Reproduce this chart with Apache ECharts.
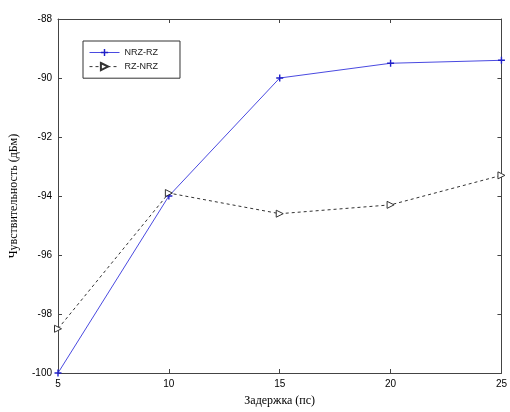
<!DOCTYPE html>
<html>
<head>
<meta charset="utf-8">
<script src="https://cdn.jsdelivr.net/npm/echarts@6/dist/echarts.min.js"></script>
<style>
  html, body { margin: 0; padding: 0; background: #fff; }
  #chart { width: 510px; height: 412px; }
</style>
</head>
<body>
<div id="chart"></div>
<script>
// Delay values (ps) and receiver sensitivity (dBm)
const delays = [5, 10, 15, 20, 25];
const nrzRz = [-100, -94.0, -90.0, -89.5, -89.4];
const rzNrz = [-98.5, -93.9, -94.6, -94.3, -93.3];
const yTicks = [-100, -98, -96, -94, -92, -90, -88];

const chart = echarts.init(document.getElementById('chart'));
const tickFont = { fontFamily: 'Arial, "Liberation Sans"', fontSize: 10, color: '#000' };
const axisColor = '#444';

const pairs = (ys) => delays.map((x, i) => [x, ys[i]]);

chart.setOption({
  animation: false,
  backgroundColor: '#fff',
  grid: { left: 58, right: 4, top: 19, bottom: 39, show: false },
  legend: {
    left: 83, top: 41,
    orient: 'vertical',
    itemGap: 5,
    itemWidth: 30,
    itemHeight: 9,
    padding: [7, 22, 7, 6],
    borderColor: '#333',
    borderWidth: 1,
    backgroundColor: '#fff',
    lineStyle: { width: 1 },
    textStyle: { fontFamily: 'Arial, "Liberation Sans"', fontSize: 9, color: '#222' },
    data: ['NRZ-RZ', 'RZ-NRZ']
  },
  xAxis: [{
    type: 'value', min: 5, max: 25, interval: 5,
    position: 'bottom',
    axisLine: { lineStyle: { color: axisColor, width: 1 } },
    axisTick: { inside: true, length: 4, lineStyle: { color: axisColor } },
    axisLabel: Object.assign({ margin: 6 }, tickFont),
    splitLine: { show: false },
    name: 'Задержка (пс)', nameLocation: 'middle', nameGap: 22,
    nameTextStyle: { fontFamily: '"Liberation Serif", "DejaVu Serif", serif', fontSize: 12, color: '#000' }
  }, {
    type: 'value', min: 5, max: 25, interval: 5,
    position: 'top',
    axisLine: { lineStyle: { color: axisColor, width: 1 } },
    axisTick: { inside: true, length: 4, lineStyle: { color: axisColor } },
    axisLabel: { show: false },
    splitLine: { show: false }
  }],
  yAxis: [{
    type: 'value', min: -100, max: -88, interval: 2,
    position: 'left',
    axisLine: { lineStyle: { color: axisColor, width: 1 } },
    axisTick: { inside: true, length: 4, lineStyle: { color: axisColor } },
    axisLabel: Object.assign({ margin: 6, formatter: (v) => yTicks.includes(v) ? String(v) : '' }, tickFont),
    splitLine: { show: false },
    name: 'Чувствительность (дБм)', nameLocation: 'middle', nameGap: 38,
    nameTextStyle: { fontFamily: '"Liberation Serif", "DejaVu Serif", serif', fontSize: 12, color: '#000' }
  }, {
    type: 'value', min: -100, max: -88, interval: 2,
    position: 'right',
    axisLine: { lineStyle: { color: axisColor, width: 1 } },
    axisTick: { inside: true, length: 4, lineStyle: { color: axisColor } },
    axisLabel: { show: false },
    splitLine: { show: false }
  }],
  series: [{
    name: 'NRZ-RZ',
    type: 'line',
    data: pairs(nrzRz),
    lineStyle: { color: '#4a4ae0', width: 1 },
    itemStyle: { color: '#2020c8' },
    symbol: 'path://M4,0 L6,0 L6,4 L10,4 L10,6 L6,6 L6,10 L4,10 L4,6 L0,6 L0,4 L4,4 Z',
    symbolSize: 7
  }, {
    name: 'RZ-NRZ',
    type: 'line',
    data: pairs(rzNrz),
    lineStyle: { color: '#333', width: 1, type: [3, 3] },
    itemStyle: { color: '#fff', borderColor: '#333', borderWidth: 1 },
    symbol: 'path://M0,0 L10,5 L0,10 Z',
    symbolSize: 7
  }]
});
</script>
</body>
</html>
